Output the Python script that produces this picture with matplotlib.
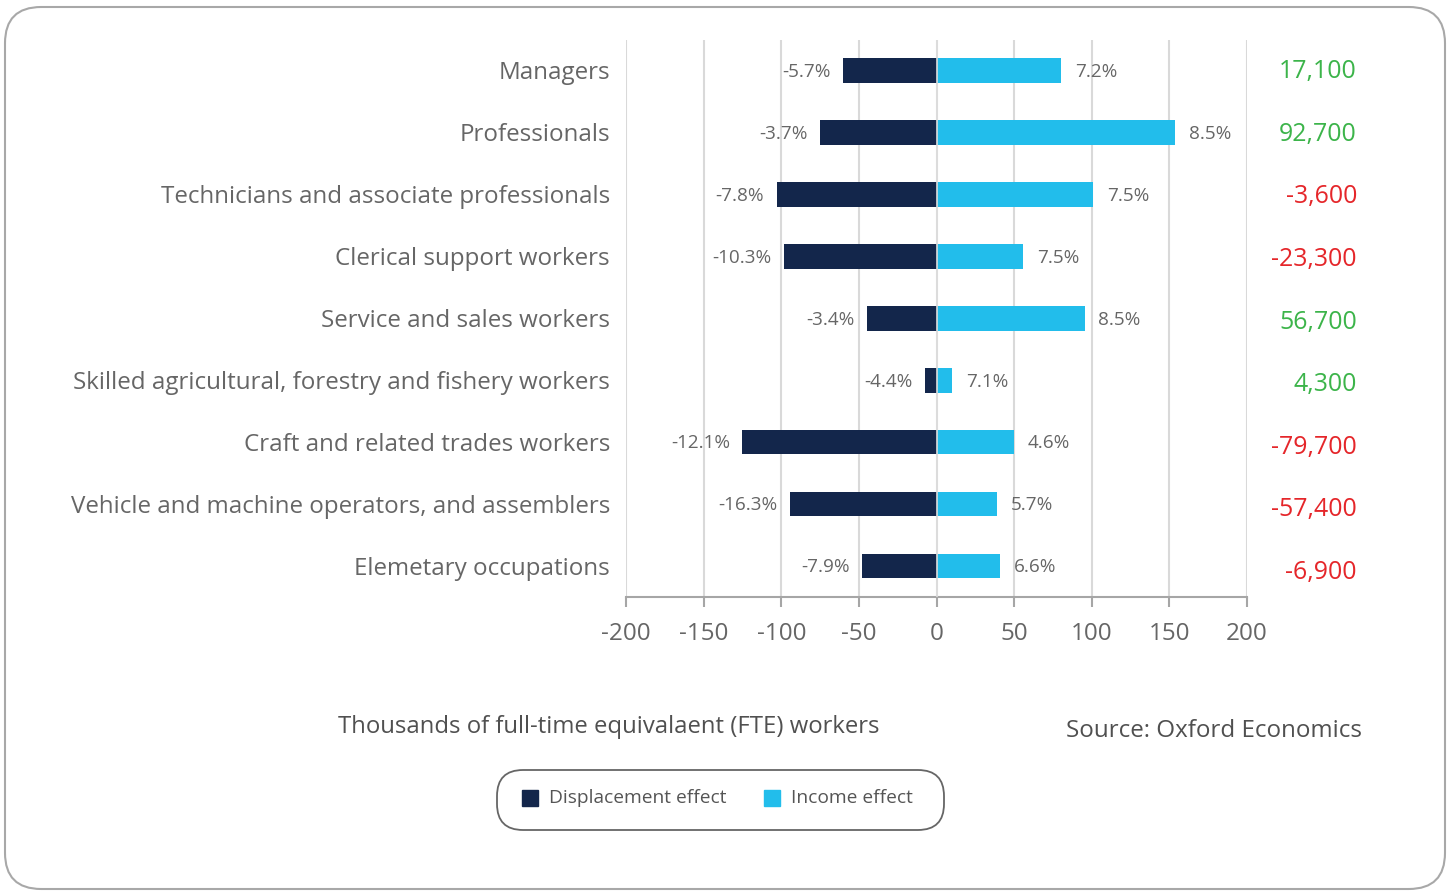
import matplotlib
matplotlib.use("Agg")
import matplotlib.pyplot as plt
from matplotlib.patches import FancyBboxPatch, Rectangle
from matplotlib.transforms import blended_transform_factory

plt.rcParams['font.family'] = ['Open Sans', 'DejaVu Sans']
plt.rcParams['axes.unicode_minus'] = False

categories = [
    "Managers",
    "Professionals",
    "Technicians and associate professionals",
    "Clerical support workers",
    "Service and sales workers",
    "Skilled agricultural, forestry and fishery workers",
    "Craft and related trades workers",
    "Vehicle and machine operators, and assemblers",
    "Elemetary occupations",
]
displacement = [-60, -75, -103, -98, -44.5, -7.6, -125, -94.6, -47.7]
income = [80.5, 153.5, 101, 55.6, 95.4, 10.3, 49.6, 38.8, 40.7]
disp_pct = [-5.7, -3.7, -7.8, -10.3, -3.4, -4.4, -12.1, -16.3, -7.9]
inc_pct = [7.2, 8.5, 7.5, 7.5, 8.5, 7.1, 4.6, 5.7, 6.6]
net_jobs = [17100, 92700, -3600, -23300, 56700, 4300, -79700, -57400, -6900]
xticks = [-200, -150, -100, -50, 0, 50, 100, 150, 200]
series_names = ["Displacement effect", "Income effect"]

DARK = "#13264b"
LIGHT = "#22bdeb"
GREEN = "#3cb44a"
RED = "#e5262a"
TXT = "#666666"

W, H = 1447, 892
fig = plt.figure(figsize=(W / 100, H / 100), dpi=100)

# outer rounded frame
frame = FancyBboxPatch((5 / W, 3 / H), (1440 / W), (882 / H),
                       boxstyle="round,pad=0,rounding_size=0.025",
                       transform=fig.transFigure, fill=False,
                       edgecolor="#a8a8a8", linewidth=1.5,
                       mutation_aspect=W / H)
fig.patches.append(frame)

ax = fig.add_axes([626 / W, 1 - 597 / H, (1247 - 626) / W, (597 - 40) / H])
y = list(range(len(categories)))
ax.barh(y, displacement, height=0.4, color=DARK, zorder=2)
ax.barh(y, income, height=0.4, color=LIGHT, zorder=2)
ax.axvline(0, color="#dddddd", lw=1.2, zorder=3)

ax.set_xlim(-200, 200)
ax.set_ylim(len(categories) - 0.5, -0.49)
ax.set_xticks(xticks)
ax.set_xticklabels([str(t) for t in xticks])
ax.xaxis.grid(True, color="#d9d9d9", lw=1.5, zorder=0)
ax.set_axisbelow(True)
for s in ["top", "right", "left"]:
    ax.spines[s].set_visible(False)
ax.spines["bottom"].set_color("#a6a6a6")
ax.spines["bottom"].set_linewidth(1.5)
ax.tick_params(axis="x", length=7, width=1.5, color="#a6a6a6", pad=11,
               labelsize=17.5, labelcolor=TXT)
ax.set_yticks(y)
ax.set_yticklabels(categories)
ax.tick_params(axis="y", length=0, pad=11.5, labelsize=17.4, labelcolor=TXT)

for i in y:
    ax.annotate(f"{disp_pct[i]:.1f}%", (displacement[i], i), xytext=(-9, -1),
                textcoords="offset points", ha="right", va="center",
                fontsize=13.6, color=TXT)
    ax.annotate(f"{inc_pct[i]:.1f}%", (income[i], i), xytext=(10, -1),
                textcoords="offset points", ha="left", va="center",
                fontsize=13.6, color=TXT)

# net job values on a twin scale (slightly different row spacing)
ax2 = ax.twinx()
ax2.set_ylim(8.391, -0.503)
ax2.axis("off")
tr = blended_transform_factory(fig.transFigure, ax2.transData)
for i in y:
    v = net_jobs[i]
    ax2.text(1357 / W, i, f"{v:,}", transform=tr, ha="right", va="center",
             fontsize=17.9, color=GREEN if v > 0 else RED)

fig.text(609 / W, 1 - 727 / H, "Thousands of full-time equivalaent (FTE) workers",
         ha="center", va="center", fontsize=17.2, color="#505050")
fig.text(1362 / W, 1 - 731 / H, "Source: Oxford Economics",
         ha="right", va="center", fontsize=17.4, color="#505050")

# legend
lbox = FancyBboxPatch((497 / W, 1 - 830 / H), (447 / W), (60 / H),
                      boxstyle="round,pad=0,rounding_size=0.018",
                      transform=fig.transFigure, fill=False,
                      edgecolor="#666666", linewidth=1.3,
                      mutation_aspect=W / H)
fig.patches.append(lbox)
for x0, col, name in [(522, DARK, series_names[0]), (764, LIGHT, series_names[1])]:
    fig.patches.append(Rectangle((x0 / W, 1 - 806 / H), 16 / W, 16 / H,
                                 transform=fig.transFigure, color=col))
    fig.text((x0 + 27) / W, 1 - 798 / H, name, ha="left", va="center",
             fontsize=13.8, color="#555555")

fig.savefig("out.png", dpi=100)
